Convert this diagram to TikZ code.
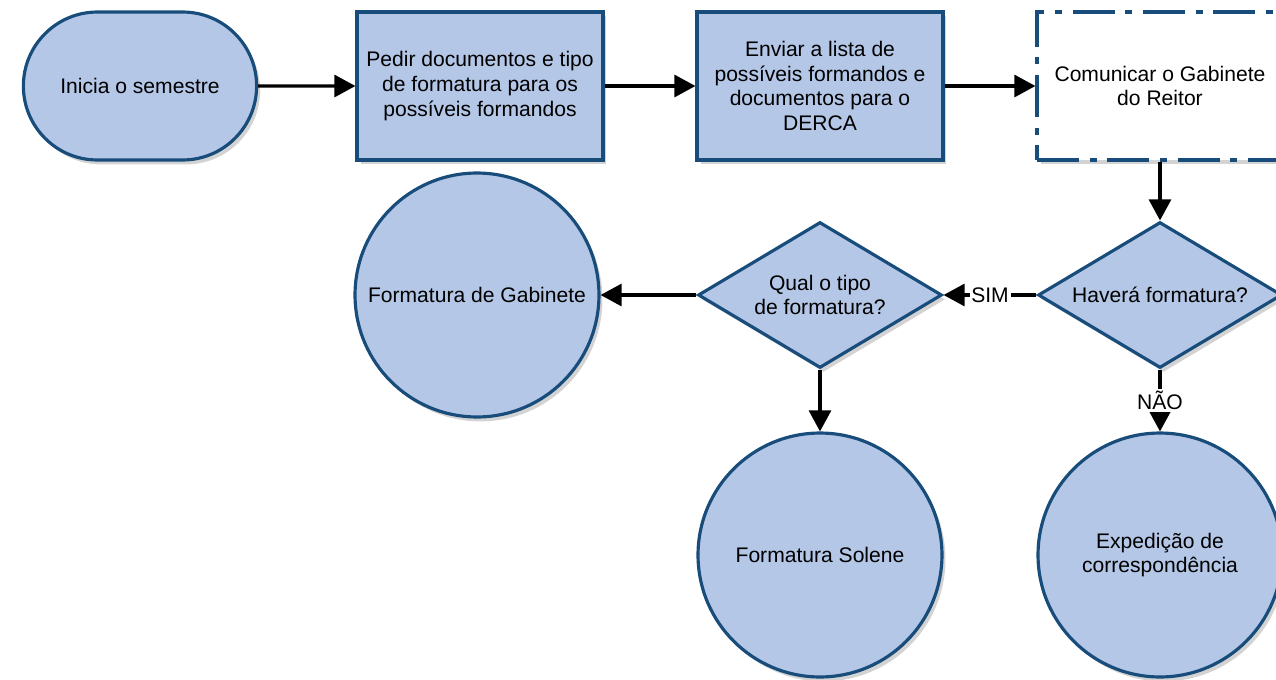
\documentclass[tikz,border=0pt]{standalone}
\usepackage{fontspec}
\setmainfont{Liberation Sans}
\usetikzlibrary{shapes.geometric,shapes.misc,shadows,arrows.meta}

\definecolor{boxfill}{RGB}{180,199,231}
\definecolor{boxline}{RGB}{24,76,122}

\tikzset{
  base/.style={draw=boxline, line width=1.8pt, fill=boxfill, align=center,
    font=\fontsize{12}{14}\selectfont,
    drop shadow={opacity=0.35, shadow xshift=2pt, shadow yshift=-2.5pt}},
  term/.style={base, rounded rectangle, minimum width=4.9cm, minimum height=2.96cm},
  proc/.style={base, rectangle, minimum width=4.92cm, minimum height=2.96cm},
  comm/.style={proc, fill=white, dash pattern=on 24pt off 6pt on 4pt off 6pt},
  decis/.style={base, diamond, aspect=1.67, minimum width=4.88cm, minimum height=2.92cm, inner sep=0pt},
  endc/.style={base, circle, minimum size=4.88cm},
  flow/.style={-{Triangle[length=12pt,width=12.5pt]}, line width=1.9pt},
  lbl/.style={fill=white, inner sep=1pt, font=\fontsize{12}{14}\selectfont}
}

\begin{document}
\begin{tikzpicture}[x=0.02cm, y=-0.02cm]

\useasboundingbox (0,0) rectangle (1276,680);

% top row
\node[term] (inicio) at (140,86) {Inicia o semestre};
\node[proc] (pedir) at (480,86) {Pedir documentos e tipo\\de formatura para os\\possíveis formandos};
\node[proc] (enviar) at (820,86) {Enviar a lista de\\possíveis formandos e\\documentos para o\\DERCA};
\node[comm] (comunicar) at (1160,86) {Comunicar o Gabinete\\do Reitor};

% decisions
\node[decis] (havera) at (1160,295) {Haverá formatura?};
\node[decis] (qual) at (820,295) {Qual o tipo\\de formatura?};

% ends
\node[endc] (gabinete) at (477,295) {Formatura de Gabinete};
\node[endc] (solene) at (820,555) {Formatura Solene};
\node[endc] (expedicao) at (1160,555) {Expedição de\\correspondência};

\draw[flow] (inicio) -- (pedir);
\draw[flow] (pedir) -- (enviar);
\draw[flow] (enviar) -- (comunicar);
\draw[flow] (comunicar) -- (havera);
\draw[flow] (havera) -- node[lbl] {SIM} (qual);
\draw[flow] (havera) -- node[lbl] {NÃO} (expedicao);
\draw[flow] (qual) -- (gabinete);
\draw[flow] (qual) -- (solene);

\end{tikzpicture}
\end{document}
